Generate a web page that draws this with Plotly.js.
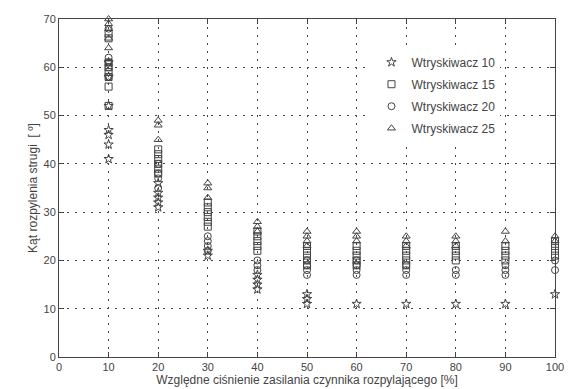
<!DOCTYPE html>
<html>
<head>
<meta charset="utf-8">
<script src="https://cdn.plot.ly/plotly-3.0.1.min.js"></script>
<style>html,body{margin:0;padding:0;background:#fff;}#chart{width:568px;height:389px;}</style>
</head>
<body>
<div id="chart"></div>
<script>
// Wtryskiwacz 10 (stars)
const x10 = [10,10,10,10,10,10,10, 20,20,20,20,20, 30,30, 40,40,40,40, 50,50,50, 60, 70, 80, 90, 100];
const y10 = [41,44,46,47,52,58,61, 31,32,33,34,36, 21,22, 14,15,16,17, 11,12,13, 11, 11, 11, 11, 13];
// Wtryskiwacz 15 (squares)
const x15 = [10,10,10,10,10,10,10,10, 20,20,20,20,20,20, 30,30,30,30,30,30, 40,40,40,40,40, 50,50,50,50,50, 60,60,60,60,60, 70,70,70,70,70, 80,80,80,80, 90,90,90,90, 100,100,100,100];
const y15 = [52,56,58,59,60,61,66,67, 38,39,40,41,42,43, 27,28,29,30,31,32, 22,23,24,25,26, 19,20,21,22,23, 19,20,21,22,23, 19,20,21,22,23, 20,21,22,23, 20,21,22,23, 21,22,23,24];
// Wtryskiwacz 20 (circles)
const x20 = [10,10,10,10,10, 20,20,20,20, 30,30,30,30, 40,40,40, 50,50,50,50, 60,60,60,60, 70,70,70, 80,80, 90,90,90, 100,100];
const y20 = [58,60,61,62,68, 35,37,38,40, 22,23,24,25, 18,19,20, 17,18,19,20, 17,18,19,20, 17,18,19, 17,18, 17,18,19, 18,20];
// Wtryskiwacz 25 (triangles)
const x25 = [10,10,10,10,10, 20,20,20, 30,30,30, 40,40,40, 50,50,50,50, 60,60,60, 70,70,70, 80,80,80, 90,90, 100,100];
const y25 = [64,66,68,69,70, 45,48,49, 33,35,36, 26,27,28, 23,24,25,26, 24,25,26, 23,24,25, 23,24,25, 24,26, 24,25];

const names = ['Wtryskiwacz 10','Wtryskiwacz 15','Wtryskiwacz 20','Wtryskiwacz 25'];
const symbols = ['star-open','square-open','circle-open','triangle-up-open'];
const xs = [x10,x15,x20,x25], ys = [y10,y15,y20,y25];

const traces = xs.map((x,i) => ({
  type:'scatter', mode:'markers', x:x, y:ys[i], name:names[i], legendgroup:'g'+i,
  marker:{symbol:symbols[i], size:7, color:'#444', line:{color:'#444', width:1}},
  cliponaxis:false
}));

const axisCommon = {
  showline:true, linecolor:'#444', linewidth:1, mirror:'ticks',
  ticks:'inside', ticklen:5, tickcolor:'#444',
  showgrid:true, gridcolor:'#444', griddash:'2px,6px', gridwidth:1,
  zeroline:false, tickfont:{family:'Liberation Sans, Arial', size:11, color:'#444'}
};

const layout = {
  width:568, height:389,
  margin:{l:59, r:13, t:19, b:32},
  paper_bgcolor:'#fff', plot_bgcolor:'#fff',
  showlegend:true,
  legend:{x:0.63, y:0.915, xanchor:'left', yanchor:'top', bgcolor:'#fff', borderwidth:0,
    traceorder:'grouped', tracegroupgap:3,
    font:{family:'Liberation Sans, Arial', size:12, color:'#444'}},
  xaxis:Object.assign({}, axisCommon, {range:[0,100], dtick:10, tick0:0,
    title:{text:'Względne ciśnienie zasilania czynnika rozpylającego [%]', standoff:2,
      font:{family:'Liberation Sans, Arial', size:12, color:'#444'}}}),
  yaxis:Object.assign({}, axisCommon, {range:[0,70], dtick:10, tick0:0,
    title:{text:'Kąt rozpylenia strugi  [ º]', standoff:3,
      font:{family:'Liberation Sans, Arial', size:12, color:'#444'}}})
};

Plotly.newPlot('chart', traces, layout, {displayModeBar:false, staticPlot:true});
</script>
</body>
</html>
